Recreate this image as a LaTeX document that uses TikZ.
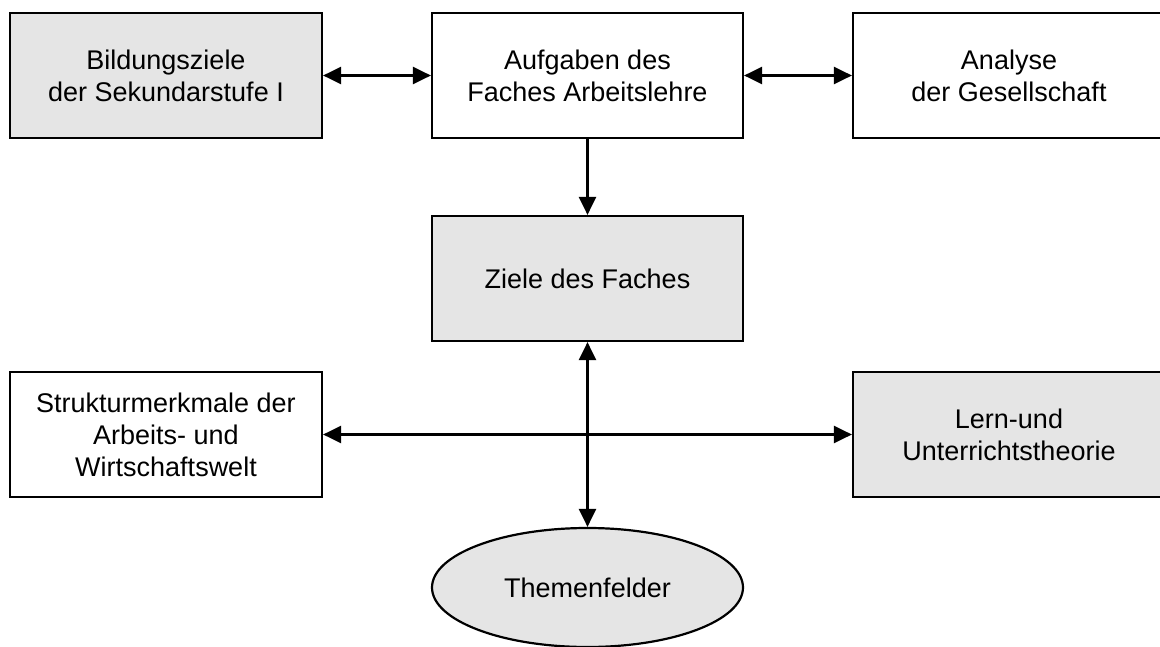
\documentclass[tikz,border=0pt]{standalone}
\usepackage{fontspec}
\setmainfont{Liberation Sans}
\usetikzlibrary{arrows.meta,shapes.geometric}
\tikzset{
  box/.style={draw=black, line width=2.2pt, minimum width=312pt, minimum height=125pt,
    inner sep=0pt, align=center, font=\fontsize{27}{32}\selectfont},
  greybox/.style={box, fill=black!10},
  whitebox/.style={box, fill=white},
  oval/.style={ellipse, draw=black, line width=2.2pt, fill=black!10, minimum width=311pt,
    minimum height=119pt, inner sep=0pt, font=\fontsize{27}{32}\selectfont},
  tip/.style={Triangle[length=18pt,width=17pt]},
  link/.style={line width=2.4pt, {Triangle[length=18pt,width=17pt]}-{Triangle[length=18pt,width=17pt]}},
  onelink/.style={line width=2.4pt, -{Triangle[length=18pt,width=17pt]}}
}
\begin{document}
\begin{tikzpicture}[x=1pt,y=-1pt]
  \useasboundingbox (0,0) rectangle (1160,647);
  \clip (0,0) rectangle (1160,647);
  \fill[white] (0,0) rectangle (1160,647);

  % top row
  \node[greybox]  (bild) at (166,75.5)  {Bildungsziele\\der Sekundarstufe I};
  \node[whitebox, minimum width=311pt] (aufg) at (587.5,75.5) {Aufgaben des\\Faches Arbeitslehre};
  \node[whitebox] (anal) at (1009,75.5) {Analyse\\der Gesellschaft};

  % middle
  \node[greybox, minimum width=311pt] (ziel) at (587.5,278.5) {Ziele des Faches};

  % lower row
  \node[whitebox] (struk) at (166,434.5) {Strukturmerkmale der\\Arbeits- und\\Wirtschaftswelt};
  \node[greybox]  (lern)  at (1009,434.5) {Lern-und\\Unterrichtstheorie};

  % bottom
  \node[oval] (them) at (587.5,587.5) {Themenfelder};

  % connectors
  \draw[link] (bild.east) -- (aufg.west);
  \draw[link] (aufg.east) -- (anal.west);
  \draw[onelink] (aufg.south) -- (ziel.north);
  \draw[link] (struk.east) -- (lern.west);
  \draw[link] (ziel.south) -- (them.north);
\end{tikzpicture}
\end{document}
